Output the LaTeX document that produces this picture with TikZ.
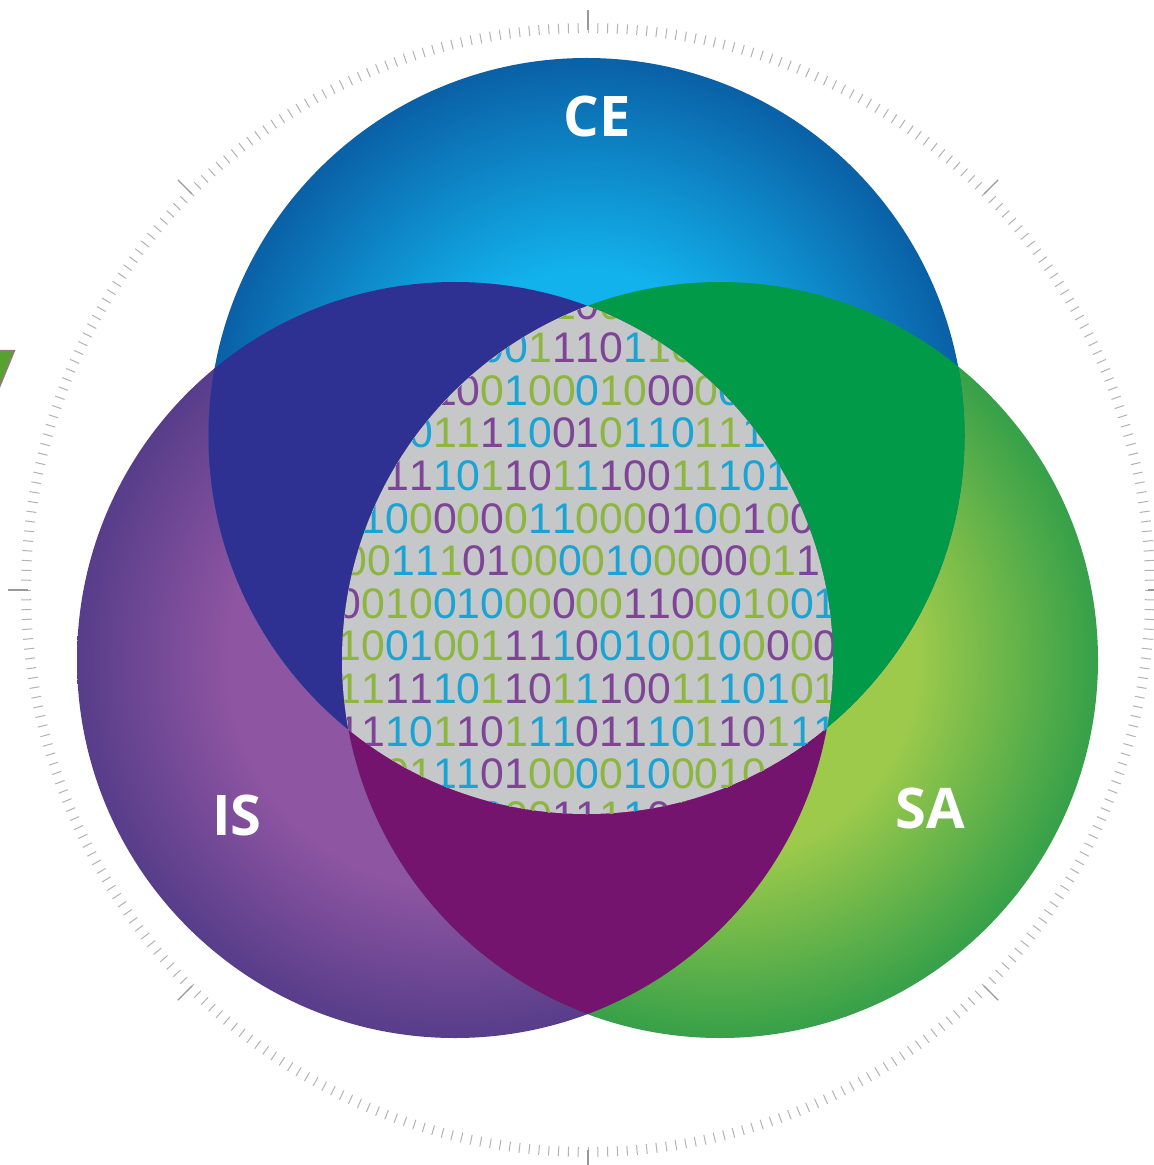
\documentclass[tikz,border=0pt]{standalone}
\usepackage{fontspec}
\usepackage{tikz}
\usetikzlibrary{shadings}

\newfontfamily\bitfont{Liberation Sans}
\newfontfamily\labelfont{Open Sans}

\definecolor{ceLight}{HTML}{12B2EC}
\definecolor{ceDark}{HTML}{0A60A6}
\definecolor{isLight}{HTML}{8E55A2}
\definecolor{isDark}{HTML}{573D8A}
\definecolor{saLight}{HTML}{9DCA4B}
\definecolor{saDark}{HTML}{36A049}
\definecolor{ceis}{HTML}{2E3192}
\definecolor{cesa}{HTML}{009A49}
\definecolor{issa}{HTML}{75146F}
\definecolor{coreGray}{HTML}{C6C7C9}
\definecolor{bitP}{HTML}{7E4597}
\definecolor{bitG}{HTML}{8CB63F}
\definecolor{bitB}{HTML}{1BA3D3}
\definecolor{flagGreen}{HTML}{56A22F}
\definecolor{flagEdge}{HTML}{8C7F70}

% 25bp is the rim of the circle
\pgfdeclareradialshading{ceball}{\pgfpoint{0bp}{0bp}}{color(0bp)=(ceLight); color(11bp)=(ceLight); color(25bp)=(ceDark); color(50bp)=(ceDark)}
\pgfdeclareradialshading{isball}{\pgfpoint{0bp}{0bp}}{color(0bp)=(isLight); color(15bp)=(isLight); color(25bp)=(isDark); color(50bp)=(isDark)}
\pgfdeclareradialshading{saball}{\pgfpoint{0bp}{0bp}}{color(0bp)=(saLight); color(13bp)=(saLight); color(25bp)=(saDark); color(50bp)=(saDark)}

% one row of coloured bits, written as colour letter + digit
\newcommand\bitrow[1]{\expandafter\bitparse#1\relax\relax}
\def\bitparse#1#2{\ifx\relax#1\else\textcolor{bit#1}{#2}\expandafter\bitparse\fi}

\def\rad{378}

\begin{document}
\begin{tikzpicture}[x=0.5pt,y=-0.5pt,
 tick/.style={draw=black!30,line width=0.5pt},
 major tick/.style={draw=black!40,line width=0.6pt},
 set label/.style={text=white,inner sep=0pt,font=\labelfont\bfseries\fontsize{28}{28}\selectfont},
 bit row/.style={anchor=base west,inner sep=0pt,font=\bitfont\fontsize{21.4}{21.4}\selectfont}]

  \useasboundingbox (0,0) rectangle (1153,1165);

  \coordinate (ce) at (586.5,436);
  \coordinate (is) at (455,660);
  \coordinate (sa) at (720,660);
  \coordinate (ring) at (588,590);

  % tick ring
  \foreach \a in {0,...,359}
   \draw[tick] ([shift={(\a:557)}]ring) -- ([shift={(\a:567)}]ring);
  \foreach \a in {0,45,...,315}
   \draw[major tick] ([shift={(\a:560)}]ring) -- ([shift={(\a:580)}]ring);

  % cut-off flag at the left
  \draw[fill=flagGreen,draw=flagEdge,line width=1pt] (-2,351) -- (14,351) -- (-2,390) -- cycle;

  % the three sets
  \shade[shading=isball] (is) circle[radius=\rad];
  \shade[shading=saball] (sa) circle[radius=\rad];
  \shade[shading=ceball] (ce) circle[radius=\rad];

  % pairwise overlaps
  \begin{scope}
   \clip (ce) circle[radius=\rad];
   \fill[ceis] (is) circle[radius=\rad];
   \fill[cesa] (sa) circle[radius=\rad];
  \end{scope}
  \begin{scope}
   \clip (is) circle[radius=\rad];
   \fill[issa] (sa) circle[radius=\rad];
  \end{scope}

  % common core with bits
  \begin{scope}
   \clip (ce) circle[radius=\rad];
   \clip (is) circle[radius=\rad];
   \clip (sa) circle[radius=\rad];
   \fill[coreGray] (ce) circle[radius=\rad];
   \foreach \n/\c/\s in {1/8/B0G1P0G0B1,
     2/6/B0B0G1P1P1P0B1G1G0,
     3/4/P1P0G0B1G0G0B0G1G0P0P0G0B0,
     4/3/B0G1G1P1B1B0P0P1G0B1B1B0G1G1B1G0,
     5/2/P1P1B1B0G1P1P0G1B1P1P0P0G1G1B1B0B1,
     6/1/B1B0G0P0G0P0G0B1B1G0G0G0P0P1B0G0P1G0P0,
     7/0.25/G0G0B1B1G1P0P1G0G0B0G0B1B0G0G0P0P0G0G1P1,
     8/0/P0G0G1G0B0B1B0G0G0P0G0G0P1P1P0G0B0G1G0B0B1,
     9/0/G1G0B0B1G0G0G1P1P1B1P0B0B1B0G0G1B0G0P0G0P0P0,
     10/0/G1G1P1P1B1B0G1P1P0G1B1P1P0P0G1G1B1B0B1G0G1,
     11/0/P1P1B1B0G1P1P0G1B1B1P0P1P1B1B0G1P1P0G1B1B1,
     12/2/G0G1B1B1P0P1G0G0B0G0B1B0G0G0G1G0,
     13/6/B0G0G0P1P1G1B1P0G1}
    \node[bit row] (row\n) at ({337.5+23.8*\c},{320+42.6*(\n-1)}) {\bitrow{\s}};
  \end{scope}

  \node[set label] (ceLabel) at (597,117) {CE};
  \node[set label] (isLabel) at (237,815) {IS};
  \node[set label] (saLabel) at (930,808) {SA};

\end{tikzpicture}
\end{document}
